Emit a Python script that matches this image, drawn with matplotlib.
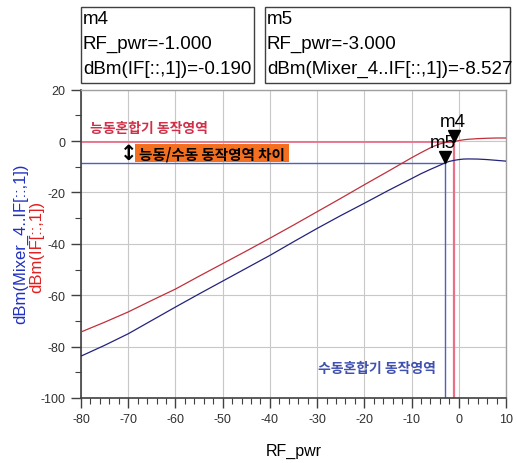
import matplotlib
matplotlib.use('Agg')
import matplotlib.pyplot as plt
import matplotlib.transforms as mtransforms
from matplotlib.patches import Rectangle
from matplotlib.ticker import MultipleLocator

plt.rcParams['font.family'] = ['Liberation Sans', 'Noto Sans CJK KR', 'DejaVu Sans']
plt.rcParams['axes.unicode_minus'] = False

# data
rf_pwr = [-80, -75, -70, -65, -60, -55, -50, -45, -40, -35, -30, -25, -20, -15,
          -10, -8, -6, -5, -4, -3, -2, -1, 0, 1, 2, 4, 6, 8, 10]
if_active = [-74.3, -70.5, -66.5, -62.0, -57.6, -52.6, -47.7, -42.8, -37.8, -32.7,
             -27.5, -22.3, -17.0, -11.8, -6.5, -4.5, -2.6, -1.8, -1.1, -0.6,
             -0.35, -0.19, 0.2, 0.5, 0.7, 0.95, 1.1, 1.2, 1.2]
if_passive = [-83.7, -79.5, -75.0, -69.8, -64.6, -59.5, -54.5, -49.5, -44.5, -39.2,
              -34.0, -29.0, -24.2, -19.3, -14.6, -12.7, -11.0, -10.2, -9.4, -8.527,
              -7.9, -7.5, -7.2, -7.0, -6.95, -7.0, -7.2, -7.5, -7.8]

m4_x, m4_y = -1.0, -0.190
m5_x, m5_y = -3.0, -8.527

red_curve = '#c0303c'
red_line = '#e87088'
blue_curve = '#23237a'
blue_line = '#5060c0'

fig = plt.figure(figsize=(5.17, 4.64), dpi=100)
ax = fig.add_axes([81/517, 1-399/464, 425/517, 308.3/464])

ax.plot(rf_pwr, if_active, color=red_curve, lw=0.9, zorder=3)
ax.plot(rf_pwr, if_passive, color=blue_curve, lw=0.9, zorder=3)

# marker guide lines
ax.plot([-80, m4_x], [m4_y, m4_y], color=red_line, lw=1.3, zorder=2)
ax.plot([m4_x, m4_x], [-100, m4_y], color=red_line, lw=1.6, zorder=2)
ax.plot([-80, m5_x], [m5_y, m5_y], color=blue_line, lw=1.0, zorder=2)
ax.plot([m5_x, m5_x], [-100, m5_y], color=blue_line, lw=1.0, zorder=2)

# marker triangles, tip on the point
ms = 8
tr = mtransforms.offset_copy(ax.transData, fig=fig, y=ms/2, units='points')
ax.plot([m4_x], [m4_y], marker='v', color='black', ms=ms, transform=tr, zorder=5)
ax.plot([m5_x], [m5_y], marker='v', color='black', ms=ms, transform=tr, zorder=5)
ax.text(-1.2, 7.8, 'm4', fontsize=13.5, ha='center', va='center', zorder=6)
ax.text(-3.3, -0.4, 'm5', fontsize=13.5, ha='center', va='center', zorder=6)

# annotations
ax.text(-78, 5.2, '능동혼합기 동작영역', color='#d03048', fontsize=10,
        fontweight='bold', family=['Noto Sans CJK KR'], va='center', ha='left')
ax.add_patch(Rectangle((-68.6, -8.2), 32.6, 7.0, facecolor='#f37021',
                       edgecolor='none', zorder=4))
ax.text(-52.3, -4.7, '능동/수동 동작영역 차이', color='black', fontsize=10.5,
        fontweight='bold', family=['Noto Sans CJK KR'], va='center', ha='center',
        zorder=5)
ax.text(-70, -4.5, '\u2195', color='black', fontsize=15, fontweight='bold',
        family=['DejaVu Sans'], ha='center', va='center', zorder=5)
ax.text(-29.8, -88.3, '수동혼합기 동작영역', color='#4050b0', fontsize=10,
        fontweight='bold', family=['Noto Sans CJK KR'], va='center', ha='left')

ax.set_xlim(-80, 10)
ax.set_ylim(-100, 20)
ax.xaxis.set_major_locator(MultipleLocator(10))
ax.xaxis.set_minor_locator(MultipleLocator(2))
ax.yaxis.set_major_locator(MultipleLocator(20))
ax.yaxis.set_minor_locator(MultipleLocator(10))
ax.grid(True, which='major', color='#c8c8c8', lw=0.8, zorder=0)
ax.tick_params(which='major', direction='out', length=7, width=1, color='#404040',
               labelsize=9, labelcolor='#303030', pad=4)
ax.tick_params(which='minor', direction='out', length=4, width=0.8, color='#404040')
for s in ['left', 'bottom']:
    ax.spines[s].set_color('#404040')
    ax.spines[s].set_linewidth(1.2)
for s in ['top', 'right']:
    ax.spines[s].set_color('#a0a0a0')
    ax.spines[s].set_linewidth(1.0)

ax.set_xlabel('RF_pwr', fontsize=11.5, labelpad=13)
fig.text(21/517, 1-244/464, 'dBm(Mixer_4..IF[::,1])', rotation=90, color='#2030c0',
         fontsize=12, ha='center', va='center')
fig.text(37/517, 1-247/464, 'dBm(IF[::,1])', rotation=90, color='#e02020',
         fontsize=12, ha='center', va='center')

# marker readout boxes
boxes = [(81, 254, ['m4', 'RF_pwr=-1.000', 'dBm(IF[::,1])=-0.190']),
         (265, 510, ['m5', 'RF_pwr=-3.000', 'dBm(Mixer_4..IF[::,1])=-8.527'])]
for x0, x1, lines in boxes:
    fig.patches.append(Rectangle((x0/517, 1-84/464), (x1-x0)/517, 76/464,
                                 transform=fig.transFigure, fill=False,
                                 edgecolor='#404040', lw=1.0))
    for i, t in enumerate(lines):
        fig.text((x0+2)/517, 1-(20+24.5*i)/464, t, fontsize=13.5, ha='left',
                 va='center', color='black')

fig.savefig('out.png', dpi=100)
